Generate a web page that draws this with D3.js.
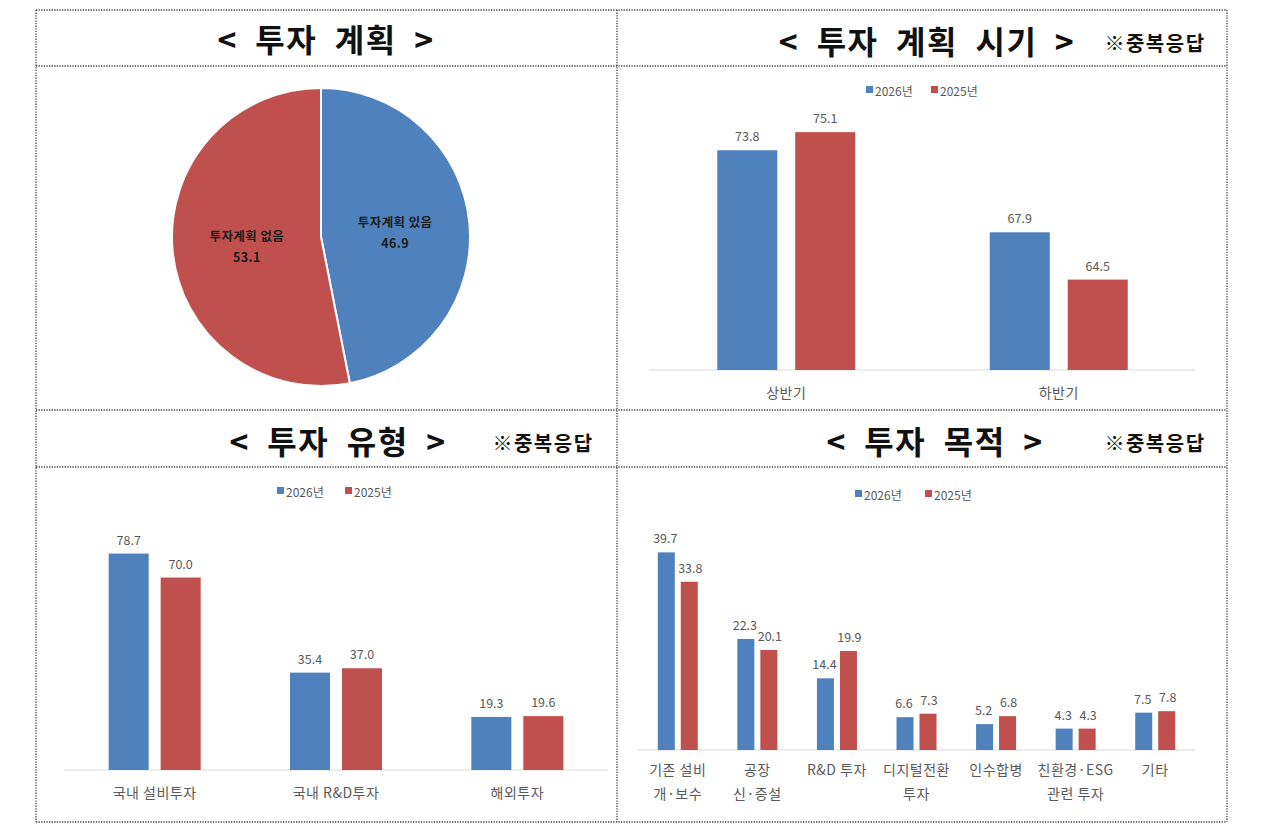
<!DOCTYPE html>
<html>
<head>
<meta charset="utf-8">
<script src="https://cdn.jsdelivr.net/npm/d3@7"></script>
<style>
  body { margin: 0; background: #fff; }
  text { font-family: "Noto Sans CJK KR", "Noto Sans", sans-serif; }
</style>
</head>
<body>
<div class="box"></div>
<script>
// data
const pieLabels = ['투자계획 있음', '투자계획 없음'];
const pieValues = [46.9, 53.1];

const seriesNames = ['2026년', '2025년'];
const seriesColors = ['#4f81bd', '#c0504d'];

const timingCats = ['상반기', '하반기'];
const timing2026 = [73.8, 67.9];
const timing2025 = [75.1, 64.5];

const typeCats = ['국내 설비투자', '국내 R&D투자', '해외투자'];
const type2026 = [78.7, 35.4, 19.3];
const type2025 = [70.0, 37.0, 19.6];

const purposeCats = [['기존 설비', '개·보수'], ['공장', '신·증설'], ['R&D 투자'], ['디지털전환', '투자'],
                     ['인수합병'], ['친환경·ESG', '관련 투자'], ['기타']];
const purpose2026 = [39.7, 22.3, 14.4, 6.6, 5.2, 4.3, 7.5];
const purpose2025 = [33.8, 20.1, 19.9, 7.3, 6.8, 4.3, 7.8];

const svg = d3.select('.box').append('svg')
              .attr('width', 1280)
              .attr('height', 827);

// FRAME (dotted table lines)
const frame = svg.append('g')
                 .attr('stroke', '#444')
                 .attr('stroke-width', 1.3)
                 .attr('stroke-dasharray', '1.3,1.3');
[10, 66, 410, 467, 822].forEach(y => {
  frame.append('line').attr('x1', 36).attr('x2', 1227).attr('y1', y).attr('y2', y);
});
[36, 617, 1227].forEach(x => {
  frame.append('line').attr('x1', x).attr('x2', x).attr('y1', 10).attr('y2', 822);
});

// HEADERS
function header(x, y, title) {
  svg.append('text')
     .attr('x', x).attr('y', y)
     .attr('text-anchor', 'middle')
     .attr('dominant-baseline', 'central')
     .attr('font-size', 32)
     .attr('font-weight', 'bold')
     .attr('letter-spacing', 1.5)
     .attr('fill', '#111')
     .style('white-space', 'pre')
     .text(title);
}
function noteText(x, y) {
  svg.append('text')
     .attr('x', x).attr('y', y)
     .attr('text-anchor', 'middle')
     .attr('dominant-baseline', 'central')
     .attr('font-size', 20)
     .attr('font-weight', 'bold')
     .attr('letter-spacing', 1.5)
     .attr('fill', '#111')
     .text('※중복응답');
}
header(326, 38, '<  투자  계획  >');
header(927, 40, '<  투자  계획  시기  >');
noteText(1155, 42);
header(338, 440, '<  투자  유형  >');
noteText(543, 442);
header(935, 440, '<  투자  목적  >');
noteText(1155, 442);

// PIE
const pieG = svg.append('g').attr('transform', 'translate(321,237)');
const r = 149;
const pie = d3.pie().sort(null).value(d => d.v);
const arcs = pie(pieValues.map((v, i) => ({ v: v, label: pieLabels[i] })));
const arc = d3.arc().innerRadius(0).outerRadius(r);
const labelArc = d3.arc().innerRadius(r * 0.5).outerRadius(r * 0.5);

pieG.selectAll('path')
    .data(arcs)
    .join('path')
    .attr('d', arc)
    .attr('fill', (d, i) => seriesColors[i])
    .attr('stroke', '#fff')
    .attr('stroke-width', 2);

const pieText = pieG.selectAll('text.lbl')
    .data(arcs)
    .join('text')
    .attr('class', 'lbl')
    .attr('transform', d => 'translate(' + labelArc.centroid(d) + ')')
    .attr('text-anchor', 'middle')
    .attr('font-size', 12.5)
    .attr('font-weight', 'bold')
    .attr('letter-spacing', 0.4)
    .attr('fill', '#1b1b1b');
pieText.append('tspan').attr('x', 0).attr('dy', '-0.25em').text(d => d.data.label);
pieText.append('tspan').attr('x', 0).attr('dy', '1.7em').text(d => d.data.v.toFixed(1));

// BAR CHART helper
function barChart(opt) {
  const g = svg.append('g');
  const x0 = d3.scaleBand().domain(d3.range(opt.cats.length)).range([opt.x0, opt.x1]);
  const x1 = d3.scaleBand().domain([0, 1]).range([0, opt.pairW]).paddingInner(opt.gap);
  const y = d3.scaleLinear().domain(opt.domain).range([opt.base, opt.top]);

  // baseline
  g.append('line')
   .attr('x1', opt.x0).attr('x2', opt.x1)
   .attr('y1', opt.base).attr('y2', opt.base)
   .attr('stroke', '#d9d9d9').attr('stroke-width', 1);

  const rows = opt.cats.map((c, i) => [opt.a[i], opt.b[i]]);
  const grp = g.selectAll('g.cat')
               .data(rows)
               .join('g')
               .attr('class', 'cat')
               .attr('transform', (d, i) => 'translate(' + (x0(i) + x0.bandwidth() / 2 - opt.pairW / 2) + ',0)');

  grp.selectAll('rect')
     .data(d => d)
     .join('rect')
     .attr('x', (d, j) => x1(j))
     .attr('width', x1.bandwidth())
     .attr('y', d => y(d))
     .attr('height', d => opt.base - y(d))
     .attr('fill', (d, j) => seriesColors[j]);

  grp.selectAll('text')
     .data(d => d)
     .join('text')
     .attr('x', (d, j) => x1(j) + x1.bandwidth() / 2 + (opt.lblShift ? opt.lblShift[j] : 0))
     .attr('y', d => y(d) - 9)
     .attr('text-anchor', 'middle')
     .attr('font-size', 12.5)
     .attr('fill', '#595959')
     .text(d => d.toFixed(1));

  // category labels
  opt.cats.forEach((c, i) => {
    const lines = Array.isArray(c) ? c : [c];
    const t = g.append('text')
               .attr('x', x0(i) + x0.bandwidth() / 2)
               .attr('y', opt.base + opt.lblY)
               .attr('text-anchor', 'middle')
               .attr('font-size', opt.catSize)
               .attr('letter-spacing', 0.5)
               .attr('fill', '#595959');
    lines.forEach((l, k) => {
      t.append('tspan').attr('x', x0(i) + x0.bandwidth() / 2).attr('dy', k === 0 ? 0 : opt.lineH).text(l);
    });
  });

  // legend
  const lg = g.append('g').attr('transform', 'translate(' + opt.legX + ',' + opt.legY + ')');
  seriesNames.forEach((s, j) => {
    const it = lg.append('g').attr('transform', 'translate(' + (j * opt.legGap) + ',0)');
    it.append('rect').attr('x', 0).attr('y', -4).attr('width', 7).attr('height', 7).attr('fill', seriesColors[j]);
    it.append('text').attr('x', 9).attr('y', 0).attr('dominant-baseline', 'central')
      .attr('font-size', 12).attr('fill', '#595959').text(s);
  });
}

barChart({
  cats: timingCats, a: timing2026, b: timing2025,
  x0: 650, x1: 1195, base: 370, top: 64, domain: [58, 80],
  pairW: 138, gap: 0.23, lblY: 28, catSize: 14, lineH: 24,
  legX: 866, legY: 90, legGap: 65
});

barChart({
  cats: typeCats, a: type2026, b: type2025,
  x0: 64, x1: 608, base: 770, top: 522.5, domain: [0, 90],
  pairW: 92, gap: 0.23, lblY: 28, catSize: 14, lineH: 24,
  legX: 277, legY: 491, legGap: 68
});

barChart({
  cats: purposeCats, a: purpose2026, b: purpose2025,
  x0: 638, x1: 1195, base: 750, top: 526, domain: [0, 45],
  pairW: 40, gap: 0.26, lblY: 25, catSize: 14, lineH: 24,
  legX: 855, legY: 494, legGap: 70, lblShift: [-1, 1]
});
</script>
</body>
</html>
